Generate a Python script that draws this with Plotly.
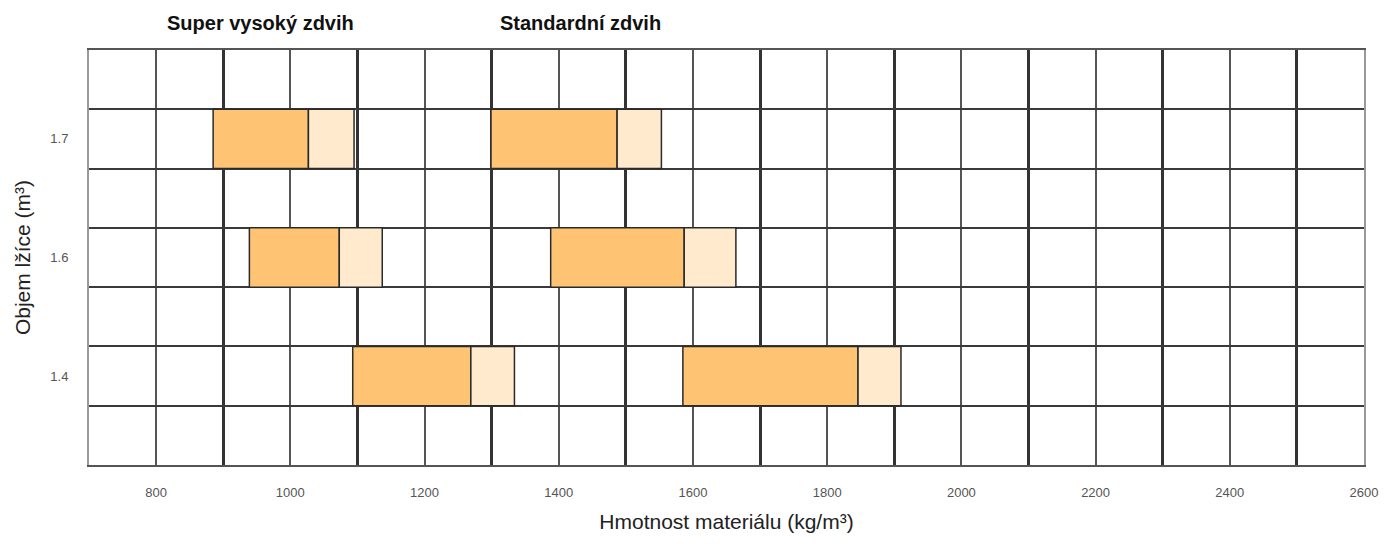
import plotly.graph_objects as go

# ---- data ----
categories = ["1.7", "1.6", "1.4"]
super_start = [885, 939, 1093]
super_mid = [1027, 1073, 1269]
super_end = [1095, 1137, 1334]
std_start = [1299, 1388, 1585]
std_mid = [1487, 1587, 1846]
std_end = [1553, 1664, 1910]
x_ticks = [800, 1000, 1200, 1400, 1600, 1800, 2000, 2200, 2400, 2600]
x_tick_text = ["800", "1000", "1200", "1400", "1600", "1800", "2000", "2200", "2400", "2600"]
group_titles = ["Super vysoký zdvih", "Standardní zdvih"]

# rows bottom->top: blank rows between the bucket sizes
row_order = [" ", "1.4", "  ", "1.6", "   ", "1.7", "    "]

DARK = "#FEC474"
LIGHT = "#FFEACD"
EDGE = "#2a2a2a"

fig = go.Figure()

# invisible trace so every row exists on the category axis
fig.add_trace(go.Scatter(x=[1000] * len(row_order), y=row_order, mode="markers",
                         marker=dict(opacity=0), hoverinfo="skip", showlegend=False))

def seg(starts, ends, color):
    fig.add_trace(go.Bar(
        y=categories, base=starts, x=[e - s for s, e in zip(starts, ends)],
        orientation="h", width=1.0,
        marker=dict(color=color, line=dict(color=EDGE, width=1.5)),
        showlegend=False, hoverinfo="skip"))

seg(super_start, super_mid, DARK)
seg(super_mid, super_end, LIGHT)
seg(std_start, std_mid, DARK)
seg(std_mid, std_end, LIGHT)

# page body has an 8px default margin, so the figure is sized to fit inside it
fig.update_layout(
    width=1382, height=534,
    margin=dict(l=81, r=15, t=42, b=60),
    paper_bgcolor="white", plot_bgcolor="white",
    barmode="overlay",
    font=dict(family="Liberation Sans, Arial, sans-serif", color="#222"),
)

fig.update_xaxes(
    range=[700, 2600],
    tickmode="array", tickvals=x_ticks, ticktext=x_tick_text,
    tickfont=dict(size=13, color="#555"),
    ticks="", ticklabelstandoff=14,
    showgrid=True, gridcolor="#555", gridwidth=1.5,
    minor=dict(tick0=900, dtick=200, showgrid=True, gridcolor="#333", gridwidth=2.5),
    showline=True, linecolor="#555", linewidth=2, mirror=True,
    zeroline=False,
    title=dict(text="Hmotnost materiálu (kg/m³)", font=dict(size=21, color="#222"), standoff=16),
)

fig.update_yaxes(
    type="category", categoryorder="array", categoryarray=row_order,
    range=[-0.5, len(row_order) - 0.5],
    tickson="boundaries", ticks="", ticklabelstandoff=16,
    tickfont=dict(size=13, color="#555"),
    showgrid=True, gridcolor="#3a3a3a", gridwidth=2,
    showline=True, linecolor="#999", linewidth=2, mirror=True,
    title=dict(text="Objem lžíce (m³)", font=dict(size=21, color="#222"), standoff=14),
)

for txt, xpx in zip(group_titles, [262, 585]):
    fig.add_annotation(text="<b>" + txt + "</b>", xref="paper", yref="paper",
                       x=(xpx - 89) / 1286, y=1 + (50 - 22) / 432,
                       xanchor="center", yanchor="middle", showarrow=False,
                       font=dict(size=20, color="#111"))

fig.write_html("out.html")
